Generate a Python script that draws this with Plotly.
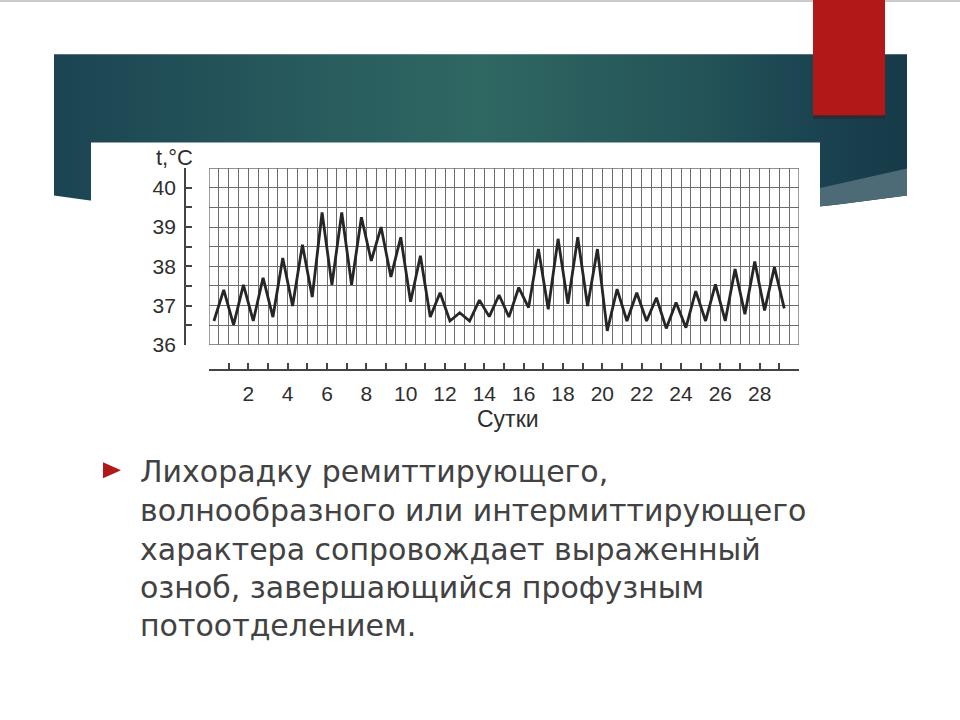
import numpy as np
import plotly.graph_objects as go

# ---------------- data ----------------
days = list(range(1, 31))
morning = [36.61, 36.51, 36.61, 36.71, 36.99, 37.22, 37.53, 37.53, 38.14, 37.73,
           37.10, 36.71, 36.61, 36.61, 36.72, 36.71, 36.95, 36.91, 37.05, 36.99,
           36.36, 36.61, 36.61, 36.42, 36.44, 36.61, 36.61, 36.78, 36.88, 36.93]
evening = [37.40, 37.53, 37.71, 38.21, 38.55, 39.37, 39.37, 39.25, 39.00, 38.74,
           38.27, 37.33, 36.82, 37.14, 37.27, 37.46, 38.44, 38.70, 38.74, 38.44,
           37.42, 37.33, 37.20, 37.08, 37.37, 37.54, 37.93, 38.12, 37.98]
x_tick_vals = list(range(0, 31))
x_tick_text = [str(d) if (d % 2 == 0 and 2 <= d <= 28) else "" for d in x_tick_vals]
y_tick_vals = [36, 36.5, 37, 37.5, 38, 38.5, 39, 39.5, 40, 40.5]
y_tick_text = ["36", "", "37", "", "38", "", "39", "", "40", ""]
y_title = "t,°C"
x_title = "Сутки"
bullet_lines = [
    "Лихорадку ремиттирующего,",
    "волнообразного или интермиттирующего",
    "характера сопровождает выраженный",
    "озноб, завершающийся профузным",
    "потоотделением.",
]

# interleave morning / evening readings
xs, ys = [], []
for i, d in enumerate(days):
    xs.append(d - 0.75); ys.append(morning[i])
    if i < len(evening):
        xs.append(d - 0.25); ys.append(evening[i])

W, H = 960, 720          # design coordinate system (reference pixels)
FIG_H = 733              # rendered height (viewport compensation)
fig = go.Figure()

# ---------------- slide background (pixel coordinate subplot) ----------------
def arc(x):
    return 195 + 30 * (1 - ((x - 480.5) / 426.5) ** 2)

ax = np.linspace(907, 54, 80)
banner_x = [54, 907] + list(ax) + [54]
banner_y = [54, 54] + [arc(v) for v in ax] + [54]
fig.add_trace(go.Scatter(x=banner_x, y=banner_y, mode="lines", fill="toself",
                         line=dict(width=0),
                         fillgradient=dict(type="horizontal",
                                           colorscale=[[0, "#1b4452"], [0.3, "#285b5d"],
                                                       [0.5, "#2f6763"], [0.75, "#245458"],
                                                       [0.9, "#1a4250"], [1, "#163a48"]]),
                         hoverinfo="skip", showlegend=False))
sx = np.linspace(907, 760, 40)
strip_x = [760, 907] + list(sx)
strip_y = [201, 168] + [arc(v) for v in sx]
fig.add_trace(go.Scatter(x=strip_x, y=strip_y, mode="lines", fill="toself",
                         line=dict(width=0), fillcolor="#4d6a77",
                         hoverinfo="skip", showlegend=False))

def rect(x0, y0, x1, y1, color):
    fig.add_trace(go.Scatter(x=[x0, x1, x1, x0, x0], y=[y0, y0, y1, y1, y0],
                             mode="lines", fill="toself", line=dict(width=0),
                             fillcolor=color, hoverinfo="skip", showlegend=False))

rect(0, 0, 960, 2, "#c9cccd")
rect(813, 115, 885, 118.5, "#2b2d30")
rect(813, 0, 885, 115, "#b21818")
rect(91, 142, 820, 452, "#ffffff")
fig.add_trace(go.Scatter(x=[103, 121, 103, 103], y=[461, 469, 477, 461], mode="lines",
                         fill="toself", line=dict(width=0), fillcolor="#b21818",
                         hoverinfo="skip", showlegend=False))

# ---------------- temperature chart ----------------
fig.add_trace(go.Scatter(x=xs, y=ys, mode="lines", xaxis="x2", yaxis="y2",
                         line=dict(color="#262626", width=2.8),
                         showlegend=False))

grid_col = "#6c6c6c"
axis_col = "#444444"
lbl_font = dict(family="Liberation Sans, Arial", size=21, color="#2e2e2e")

fig.update_layout(
    width=W, height=FIG_H, margin=dict(l=0, r=0, t=0, b=0),
    paper_bgcolor="white", plot_bgcolor="rgba(0,0,0,0)",
    xaxis=dict(domain=[0, 1], range=[0, W], visible=False, fixedrange=True),
    yaxis=dict(domain=[0, 1], range=[H, 0], visible=False, fixedrange=True),
    xaxis2=dict(domain=[209 / W, 799 / W], range=[0, 30], anchor="free",
                position=1 - 369 / H,
                tickmode="array", tickvals=x_tick_vals, ticktext=x_tick_text,
                ticks="inside", ticklen=6, tickwidth=1.6, tickcolor=axis_col,
                showline=True, linecolor=axis_col, linewidth=1.8,
                showgrid=True, gridcolor=grid_col, gridwidth=1.3,
                minor=dict(tick0=0, dtick=0.5, showgrid=True, gridcolor=grid_col,
                           gridwidth=1.3, ticks=""),
                zeroline=False, tickfont=lbl_font, ticklabelstandoff=5,
                fixedrange=True),
    yaxis2=dict(domain=[1 - 344 / H, 1 - 167.6 / H], range=[36, 40.5], anchor="free",
                position=185 / W, side="left",
                tickmode="array", tickvals=y_tick_vals, ticktext=y_tick_text,
                ticks="inside", ticklen=6, tickwidth=1.6, tickcolor=axis_col,
                showline=True, linecolor=axis_col, linewidth=1.8,
                showgrid=True, gridcolor=grid_col, gridwidth=1.3,
                zeroline=False, tickfont=lbl_font, ticklabelstandoff=4,
                fixedrange=True),
    shapes=[dict(type="rect", xref="x2", yref="y2", x0=0, x1=30, y0=36, y1=40.5,
                 line=dict(color=grid_col, width=1.3), layer="between")],
)

annos = [
    dict(x=174, y=157, text=y_title, font=dict(family="Liberation Sans, Arial", size=22, color="#2e2e2e")),
    dict(x=508, y=418, text=x_title, font=dict(family="Liberation Sans, Arial", size=23, color="#2e2e2e")),
]
for a in annos:
    fig.add_annotation(xref="x", yref="y", showarrow=False, **a)

line_y = [470, 509, 548, 586, 624]
for txt, yy in zip(bullet_lines, line_y):
    fig.add_annotation(xref="x", yref="y", x=138, y=yy, xanchor="left", yanchor="middle",
                       text=txt, showarrow=False,
                       font=dict(family="DejaVu Sans", size=30, color="#424242"))

fig.write_html("out.html", config={"displayModeBar": False},
               post_script="document.body.style.margin='0';")
